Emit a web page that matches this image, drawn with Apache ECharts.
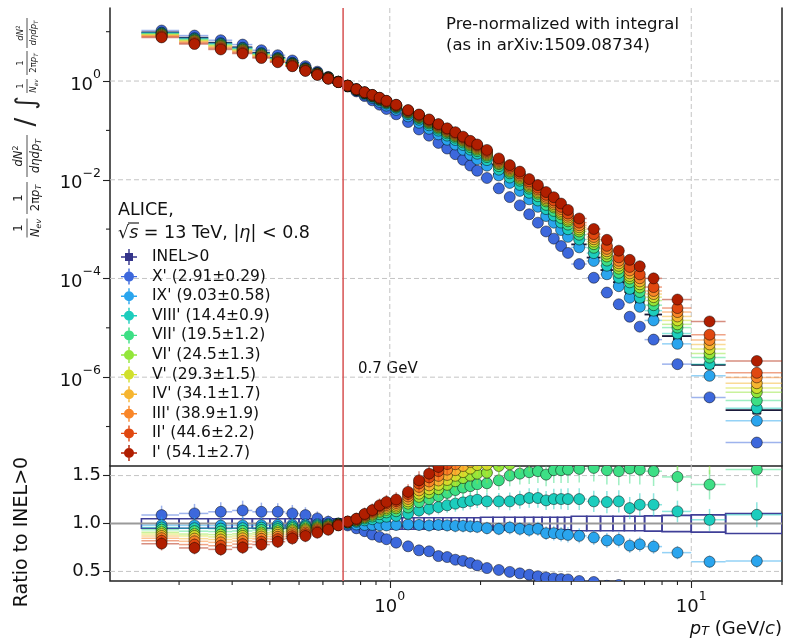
<!DOCTYPE html>
<html><head><meta charset="utf-8">
<script src="https://cdn.jsdelivr.net/npm/echarts@6/dist/echarts.min.js"></script>
<style>html,body{margin:0;padding:0;background:#fff}#c{width:786px;height:643px}</style>
</head><body><div id="c"></div>
<script>
// ---------------- data ----------------
const binEdges = [0.15,0.2,0.25,0.3,0.35,0.4,0.45,0.5,0.55,0.6,0.65,0.7,0.75,0.8,0.85,0.9,0.95,1.0,1.1,1.2,1.3,1.4,1.5,1.6,1.7,1.8,1.9,2.0,2.2,2.4,2.6,2.8,3.0,3.2,3.4,3.6,3.8,4.0,4.5,5.0,5.5,6.0,6.5,7.0,8.0,10.0,13.0,20.0];

// INEL>0 normalized spectrum (top panel)
const inelSpectrum = [9.7,7.55,5.98,4.82,3.75,2.97,2.36,1.84,1.47,1.19,0.97,
  0.79,0.65,0.54,0.46,0.386,0.325,
  0.265,0.194,0.145,0.11,0.0845,0.066,0.053,0.0415,0.033,0.027,
  0.0203,0.013,0.009,0.0063,0.0043,0.003,0.00205,0.0015,0.00108,0.00079,
  0.00049,0.000265,0.000148,8.4e-5,5.3e-5,3.4e-5,
  1.86e-5,6.8e-6,1.77e-6,2.15e-7];
// INEL>0 systematic half-height of boxes in ratio panel
const inelSys = [0.05,0.05,0.05,0.05,0.05,0.05,0.05,0.05,0.05,0.05,0.05,
  0.055,0.055,0.055,0.055,0.055,0.055,
  0.06,0.06,0.06,0.06,0.06,0.06,0.06,0.06,0.06,0.06,
  0.065,0.065,0.065,0.065,0.065,0.065,0.065,0.065,0.065,0.065,
  0.075,0.075,0.075,0.075,0.075,0.075,
  0.08,0.085,0.09,0.105];
// relative uncertainty of ratios
const ratioErr = [0.09,0.09,0.09,0.09,0.085,0.08,0.08,0.075,0.07,0.065,0.06,
  0.06,0.06,0.06,0.06,0.06,0.06,
  0.06,0.06,0.065,0.065,0.065,0.065,0.07,0.07,0.07,0.07,
  0.07,0.07,0.075,0.075,0.08,0.08,0.08,0.085,0.085,0.09,
  0.09,0.09,0.095,0.095,0.1,0.1,
  0.1,0.1,0.11,0.12];

// ratios to INEL>0 per multiplicity class
const ratioX = [1.088,1.105,1.122,1.136,1.122,1.122,1.105,1.088,1.053,1.018,1.0,
  0.98,0.95,0.92,0.885,0.86,0.836,
  0.80,0.762,0.72,0.71,0.66,0.65,0.622,0.61,0.588,0.563,
  0.535,0.515,0.495,0.48,0.465,0.45,0.437,0.427,0.42,0.416,
  0.40,0.39,0.35,0.357,0.316,0.31,
  0.31,0.27,0.22,0.22];
const ratioIX = [0.983,0.98,0.978,0.98,0.982,0.985,0.988,0.99,0.992,0.995,0.998,
  0.995,0.99,0.985,0.985,0.982,0.98,
  0.985,0.99,0.985,0.98,0.985,0.98,0.975,0.975,0.97,0.965,
  0.951,0.944,0.958,0.944,0.934,0.944,0.899,0.899,0.888,0.881,
  0.871,0.853,0.822,0.829,0.769,0.783,
  0.759,0.696,0.601,0.608];
const ratioVIII = [0.958,0.95,0.946,0.95,0.956,0.962,0.969,0.974,0.981,0.987,0.996,
  1.007,1.017,1.033,1.045,1.061,1.071,
  1.079,1.102,1.135,1.153,1.171,1.19,1.207,1.221,1.235,1.248,
  1.231,1.231,1.231,1.248,1.266,1.266,1.241,1.255,1.255,1.255,
  1.255,1.231,1.224,1.231,1.161,1.196,
  1.196,1.126,1.038,1.091];
const ratioVII = [0.935,0.92,0.916,0.922,0.932,0.941,0.952,0.96,0.97,0.98,0.994,
  1.011,1.027,1.053,1.073,1.098,1.116,
  1.128,1.167,1.222,1.254,1.285,1.319,1.349,1.374,1.39,1.41,
  1.42,1.45,1.5,1.52,1.535,1.546,1.51,1.556,1.556,1.563,
  1.57,1.58,1.556,1.546,1.574,1.563,
  1.546,1.486,1.406,1.563];
const ratioVI = [0.91,0.89,0.884,0.892,0.905,0.918,0.933,0.944,0.959,0.972,0.991,
  1.013,1.033,1.065,1.09,1.122,1.143,
  1.159,1.207,1.278,1.318,1.358,1.403,1.441,1.474,1.5,1.52,
  1.53,1.6,1.618,1.657,1.676,1.741,1.78,1.833,1.847,1.821,
  1.83,1.873,1.887,1.882,1.881,1.934,
  1.92,1.73,1.7,2.3];
const ratioV = [0.89,0.87,0.86,0.87,0.886,0.901,0.919,0.932,0.95,0.966,0.99,
  1.015,1.036,1.072,1.1,1.135,1.16,
  1.177,1.231,1.311,1.357,1.403,1.454,1.498,1.536,1.573,1.61,
  1.613,1.657,1.709,1.758,1.782,1.861,1.911,1.977,1.997,1.972,
  2.016,2.112,2.142,2.148,2.121,2.243,
  2.25,2.08,2.1,2.8];
const ratioIV = [0.87,0.842,0.833,0.845,0.864,0.882,0.904,0.919,0.941,0.96,0.988,
  1.016,1.04,1.079,1.111,1.149,1.176,
  1.195,1.256,1.346,1.398,1.449,1.507,1.557,1.6,1.643,1.685,
  1.693,1.745,1.806,1.864,1.894,1.99,2.05,2.132,2.159,2.159,
  2.221,2.35,2.398,2.416,2.393,2.559,
  2.6,2.5,2.6,3.5];
const ratioIII = [0.847,0.814,0.803,0.817,0.84,0.861,0.887,0.905,0.931,0.953,0.985,
  1.017,1.043,1.086,1.121,1.163,1.193,
  1.214,1.282,1.382,1.439,1.497,1.562,1.619,1.668,1.716,1.764,
  1.775,1.836,1.909,1.977,2.015,2.127,2.202,2.30,2.36,2.363,
  2.446,2.615,2.685,2.718,2.74,2.969,
  3.0,3.07,3.2,4.6];
const ratioII = [0.82,0.78,0.768,0.785,0.81,0.837,0.867,0.888,0.918,0.944,0.983,
  1.019,1.047,1.094,1.131,1.178,1.21,
  1.233,1.308,1.418,1.482,1.547,1.62,1.683,1.738,1.792,1.846,
  1.875,1.947,2.033,2.115,2.161,2.297,2.411,2.535,2.609,2.617,
  2.761,2.988,3.092,3.195,3.233,3.558,
  3.6,3.7,4.1,5.7];
const ratioI = [0.79,0.745,0.73,0.75,0.78,0.81,0.845,0.87,0.905,0.935,0.98,
  1.02,1.05,1.10,1.14,1.19,1.225,
  1.25,1.33,1.45,1.52,1.59,1.67,1.74,1.80,1.86,1.92,
  1.98,2.08,2.2,2.32,2.4,2.6,2.75,2.95,3.05,3.1,
  3.35,3.8,4.1,4.35,4.5,5.2,
  5.4,5.5,7.6,9.9];

const inelName = 'INEL>0';
const classNames = ["X' (2.91±0.29)","IX' (9.03±0.58)","VIII' (14.4±0.9)","VII' (19.5±1.2)","VI' (24.5±1.3)","V' (29.3±1.5)","IV' (34.1±1.7)","III' (38.9±1.9)","II' (44.6±2.2)","I' (54.1±2.7)"];
const classColors = ['#3d68dc','#2aa5ee','#1ccdbd','#3ddf85','#93e63a','#d0e02c','#f6b530','#f98628','#e04810','#b01e00'];
const classRatios = [ratioX,ratioIX,ratioVIII,ratioVII,ratioVI,ratioV,ratioIV,ratioIII,ratioII,ratioI];

const xTickMajor = [1, 10];
const xTickMinor = [0.2,0.3,0.4,0.5,0.6,0.7,0.8,0.9,2,3,4,5,6,7,8,9,20];
const yTopMajor = [1e-6,1e-4,1e-2,1];
const yTopMinor = [1e-7,1e-5,1e-3,1e-1,10];
const yRatioMajor = [0.5,1.0,1.5];
const refPt = 0.7;

// ---------------- chart ----------------
const F = 'DejaVu Sans';
const X_MIN = 0.118, X_MAX = 20, Y_MIN = 1.585e-8, Y_MAX = 30.2, R_MIN = 0.4, R_MAX = 1.6;
const inelColor = '#34348a';

const centers = binEdges.slice(0, -1).map((lo, i) => (lo + binEdges[i + 1]) / 2);

function powLabel(v) {
  const e = Math.log10(v), r = Math.round(e);
  return '{b|10}{s|' + (r < 0 ? '\u2212' + (-r) : r) + '}';
}
const powRich = {
  b: {fontSize: 18, fontFamily: F, color: '#111', lineHeight: 26, verticalAlign: 'bottom'},
  s: {fontSize: 12.5, fontFamily: F, color: '#111', lineHeight: 14, verticalAlign: 'top'}
};

function topRender(color) {
  return function (params, api) {
    const c = api.coord([api.value(0), api.value(1)]);
    const l = api.coord([api.value(2), api.value(1)]);
    const h = api.coord([api.value(3), api.value(1)]);
    return {type: 'group', children: [
      {type: 'line', shape: {x1: l[0], y1: c[1], x2: h[0], y2: c[1]}, style: {stroke: color, lineWidth: 1.5, opacity: 0.5}},
      {type: 'circle', shape: {cx: c[0], cy: c[1], r: 5.5}, style: {fill: color, stroke: 'rgba(0,0,0,0.6)', lineWidth: 0.8}}
    ]};
  };
}
function ratioRender(color) {
  return function (params, api) {
    const c = api.coord([api.value(0), api.value(1)]);
    const l = api.coord([api.value(2), api.value(1)]);
    const h = api.coord([api.value(3), api.value(1)]);
    const eL = api.coord([api.value(0), api.value(4)]);
    const eH = api.coord([api.value(0), api.value(5)]);
    return {type: 'group', children: [
      {type: 'line', shape: {x1: l[0], y1: c[1], x2: h[0], y2: c[1]}, style: {stroke: color, lineWidth: 1.5, opacity: 0.5}},
      {type: 'line', shape: {x1: c[0], y1: eL[1], x2: c[0], y2: eH[1]}, style: {stroke: color, lineWidth: 1.5, opacity: 0.5}},
      {type: 'circle', shape: {cx: c[0], cy: c[1], r: 5.5}, style: {fill: color, stroke: 'rgba(0,0,0,0.6)', lineWidth: 0.8}}
    ]};
  };
}
function vLine(grid, vals, style, z) {
  return {type: 'custom', xAxisIndex: grid, yAxisIndex: grid === 0 ? 0 : 2, silent: true, z: z, clip: false,
    encode: {x: 0, y: 1},
    data: vals.map(v => [v, 1]),
    renderItem(params, api) {
      const p = api.coord([api.value(0), api.value(1)]);
      const cs = params.coordSys;
      return {type: 'line', shape: {x1: p[0], y1: cs.y, x2: p[0], y2: cs.y + cs.height}, style: style};
    }};
}
function hLine(grid, vals, style, z) {
  return {type: 'custom', xAxisIndex: grid, yAxisIndex: grid === 0 ? 0 : 2, silent: true, z: z, clip: false,
    encode: {x: 0, y: 1},
    data: vals.map(v => [1, v]),
    renderItem(params, api) {
      const p = api.coord([api.value(0), api.value(1)]);
      const cs = params.coordSys;
      return {type: 'line', shape: {x1: cs.x, y1: p[1], x2: cs.x + cs.width, y2: p[1]}, style: style};
    }};
}
const dash = {stroke: '#c4c4c4', lineWidth: 1, lineDash: [5, 3]};
const tickStyle = {stroke: '#222', lineWidth: 1.1};

const series = [];
series.push(vLine(0, xTickMajor, dash, 1), hLine(0, yTopMajor, dash, 1));
series.push(vLine(1, xTickMajor, dash, 1), hLine(1, [0.5, 1.5], dash, 1));
// minor ticks
series.push({type: 'custom', xAxisIndex: 1, yAxisIndex: 2, silent: true, z: 5, clip: false, encode: {x: 0, y: 1},
  data: xTickMinor.map(v => [v, R_MIN]),
  renderItem(params, api) { const p = api.coord([api.value(0), api.value(1)]);
    return {type: 'line', shape: {x1: p[0], y1: p[1], x2: p[0], y2: p[1] + 4}, style: tickStyle}; }});
series.push({type: 'custom', xAxisIndex: 0, yAxisIndex: 0, silent: true, z: 5, clip: false, encode: {x: 0, y: 1},
  data: yTopMinor.map(v => [X_MIN, v]),
  renderItem(params, api) { const p = api.coord([api.value(0), api.value(1)]);
    return {type: 'line', shape: {x1: p[0] - 4, y1: p[1], x2: p[0], y2: p[1]}, style: tickStyle}; }});

// INEL>0 top
series.push({type: 'custom', name: inelName, xAxisIndex: 0, yAxisIndex: 0, z: 3, clip: true,
  encode: {x: 0, y: 1}, itemStyle: {color: inelColor},
  data: centers.map((c, i) => [c, inelSpectrum[i], binEdges[i], binEdges[i + 1]]),
  renderItem(params, api) {
    const c = api.coord([api.value(0), api.value(1)]);
    const l = api.coord([api.value(2), api.value(1)]);
    const h = api.coord([api.value(3), api.value(1)]);
    return {type: 'group', children: [
      {type: 'line', shape: {x1: l[0], y1: c[1], x2: h[0], y2: c[1]}, style: {stroke: '#1a1a3a', lineWidth: 1.8}},
      {type: 'rect', shape: {x: c[0] - 4, y: c[1] - 4, width: 8, height: 8}, style: {fill: inelColor, stroke: '#000', lineWidth: 0.8}}
    ]};
  }});
// classes top
classNames.forEach((nm, k) => {
  series.push({type: 'custom', name: nm, xAxisIndex: 0, yAxisIndex: 0, z: 3, clip: true,
    encode: {x: 0, y: 1}, itemStyle: {color: classColors[k]},
    data: centers.map((c, i) => [c, inelSpectrum[i] * classRatios[k][i], binEdges[i], binEdges[i + 1]]),
    renderItem: topRender(classColors[k])});
});
// INEL>0 ratio boxes
series.push({type: 'custom', name: inelName, xAxisIndex: 1, yAxisIndex: 2, z: 2, clip: true,
  encode: {x: 0, y: 1}, itemStyle: {color: inelColor},
  data: centers.map((c, i) => [c, 1, binEdges[i], binEdges[i + 1], inelSys[i]]),
  renderItem(params, api) {
    const a = api.coord([api.value(2), 1 + api.value(4)]);
    const b = api.coord([api.value(3), 1 - api.value(4)]);
    return {type: 'rect', shape: {x: a[0], y: a[1], width: b[0] - a[0], height: b[1] - a[1]},
      style: {fill: 'none', stroke: '#3f3f98', lineWidth: 1.6}};
  }});
series.push(hLine(1, [1.0], {stroke: '#9a9a9a', lineWidth: 2}, 2));
classNames.forEach((nm, k) => {
  series.push({type: 'custom', name: nm, xAxisIndex: 1, yAxisIndex: 2, z: 3, clip: true,
    encode: {x: 0, y: 1}, itemStyle: {color: classColors[k]},
    data: centers.map((c, i) => {
      const r = classRatios[k][i];
      return [c, r, binEdges[i], binEdges[i + 1], r * (1 - ratioErr[i]), r * (1 + ratioErr[i])];
    }),
    renderItem: ratioRender(classColors[k])});
});
// reference line at 0.7 GeV
const redStyle = {stroke: '#d95c5c', lineWidth: 1.6};
series.push(vLine(0, [refPt], redStyle, 8), vLine(1, [refPt], redStyle, 8));

// legend icons
const circleCross = 'path://M0,7.3H16V8.7H0Z M7.3,0H8.7V16H7.3Z M13,8A5,5 0 1 1 3,8A5,5 0 1 1 13,8Z';
const squareCross = 'path://M0,7.3H16V8.7H0Z M7.3,0H8.7V16H7.3Z M4,4H12V12H4Z';

// y-axis title pieces
function frac(cx, w, num, den, fs) {
  const base = {fontFamily: F, fill: '#222'};
  const rich = {
    n: Object.assign({fontSize: fs, lineHeight: fs * 1.3}, base),
    i: Object.assign({fontSize: fs, lineHeight: fs * 1.3, fontStyle: 'italic'}, base),
    b: Object.assign({fontSize: fs * 0.68, lineHeight: fs * 0.75, fontStyle: 'italic', verticalAlign: 'bottom'}, base),
    p: Object.assign({fontSize: fs * 0.68, lineHeight: fs * 0.75, verticalAlign: 'top'}, base)
  };
  return [
    {type: 'text', x: cx, y: -fs * 0.68, style: {text: num, rich: rich, align: 'center', verticalAlign: 'middle'}},
    {type: 'line', shape: {x1: cx - w / 2, y1: 0, x2: cx + w / 2, y2: 0}, style: {stroke: '#222', lineWidth: 0.8}},
    {type: 'text', x: cx, y: fs * 0.78, style: {text: den, rich: rich, align: 'center', verticalAlign: 'middle'}}
  ];
}
const yTitle = [].concat(
  frac(10, 19, '{n|1}', '{i|N}{b|ev}', 11.5),
  frac(40, 32, '{n|1}', '{n|2π}{i|p}{b|T}', 11.5),
  frac(82, 42, '{i|dN}{p|2}', '{i|dηdp}{b|T}', 11.5),
  [{type: 'text', x: 116, y: 0, style: {text: '/', fontSize: 26, fontFamily: F, fill: '#222', align: 'center', verticalAlign: 'middle'}},
   {type: 'text', x: 135, y: 0, style: {text: '∫', fontSize: 26, fontFamily: F, fill: '#222', align: 'center', verticalAlign: 'middle'}}],
  frac(152, 14, '{n|1}', '{i|N}{b|ev}', 8.5),
  frac(175, 24, '{n|1}', '{n|2π}{i|p}{b|T}', 8.5),
  frac(205, 30, '{i|dN}{p|2}', '{i|dηdp}{b|T}', 8.5)
);

const txt = (x, y, text, fs, extra) => ({type: 'text', x: x, y: y, silent: true,
  style: Object.assign({text: text, fontSize: fs, fontFamily: F, fill: '#111', align: 'left', verticalAlign: 'middle'}, extra || {})});
const richStd = (fs) => ({
  n: {fontSize: fs, fontFamily: F, fill: '#111'},
  i: {fontSize: fs, fontFamily: F, fill: '#111', fontStyle: 'italic'},
  b: {fontSize: fs * 0.7, fontFamily: F, fill: '#111', fontStyle: 'italic', verticalAlign: 'bottom', lineHeight: fs * 0.8}
});

const option = {
  animation: false,
  backgroundColor: '#fff',
  grid: [
    {left: 110, top: 8, width: 672, height: 458, show: false},
    {left: 110, top: 466, width: 672, height: 115, show: true, borderColor: '#222', borderWidth: 1.5, backgroundColor: 'transparent'}
  ],
  xAxis: [
    {type: 'log', gridIndex: 0, min: X_MIN, max: X_MAX, axisLine: {show: false}, axisTick: {show: false}, axisLabel: {show: false}, splitLine: {show: false}},
    {type: 'log', gridIndex: 1, min: X_MIN, max: X_MAX, axisLine: {show: false}, splitLine: {show: false},
      axisTick: {show: true, customValues: xTickMajor, length: 7, lineStyle: {color: '#222', width: 1.1}},
      axisLabel: {show: true, customValues: xTickMajor, margin: 9, formatter: powLabel, rich: powRich}}
  ],
  yAxis: [
    {type: 'log', gridIndex: 0, min: Y_MIN, max: Y_MAX, axisLine: {show: true, lineStyle: {color: '#222', width: 1.5}}, splitLine: {show: false},
      axisTick: {show: true, customValues: yTopMajor, length: 7, lineStyle: {color: '#222', width: 1.1}},
      axisLabel: {show: true, customValues: yTopMajor, margin: 9, formatter: powLabel, rich: powRich}},
    {type: 'log', gridIndex: 0, position: 'right', min: Y_MIN, max: Y_MAX, axisLine: {show: true, lineStyle: {color: '#222', width: 1.5}},
      axisTick: {show: false}, axisLabel: {show: false}, splitLine: {show: false}},
    {type: 'value', gridIndex: 1, min: R_MIN, max: R_MAX, axisLine: {show: false}, splitLine: {show: false},
      axisTick: {show: true, customValues: yRatioMajor, length: 7, lineStyle: {color: '#222', width: 1.1}},
      axisLabel: {show: true, customValues: yRatioMajor, margin: 9, fontSize: 18, fontFamily: F, color: '#111', formatter: v => v.toFixed(1)}}
  ],
  legend: {
    orient: 'vertical', left: 121, top: 249, padding: 0, itemWidth: 16, itemHeight: 16, itemGap: 3.6,
    selectedMode: false,
    textStyle: {fontSize: 15.5, fontFamily: F, color: '#111', lineHeight: 16, padding: [0, 0, 0, 10]},
    data: [{name: inelName, icon: squareCross}].concat(classNames.map(n => ({name: n, icon: circleCross})))
  },
  graphic: {elements: [
    {type: 'group', x: 27, y: 238, rotation: Math.PI / 2, silent: true, children: yTitle},
    {type: 'text', x: 22, y: 532, rotation: Math.PI / 2, silent: true,
      style: {text: 'Ratio to INEL>0', fontSize: 19, fontFamily: F, fill: '#111', align: 'center', verticalAlign: 'middle'}},
    txt(446, 25, 'Pre-normalized with integral', 16.5),
    txt(446, 46, '(as in arXiv:1509.08734)', 16.5),
    txt(358, 369, '0.7 GeV', 15),
    txt(118, 210, 'ALICE,', 17.5),
    txt(118, 233, '{n|√}{i|s}{n| = 13 TeV, |}{i|η}{n|| < 0.8}', 17.5, {rich: richStd(17.5)}),
    {type: 'line', silent: true, shape: {x1: 128, y1: 223, x2: 139, y2: 223}, style: {stroke: '#111', lineWidth: 1.1}},
    txt(782, 629, '{i|p}{b|T}{n| (GeV/}{i|c}{n|)}', 18, {align: 'right', rich: richStd(18)})
  ]},
  series: series
};

const chart = echarts.init(document.getElementById('c'), null, {renderer: 'canvas'});
chart.setOption(option);
</script>
</body></html>
